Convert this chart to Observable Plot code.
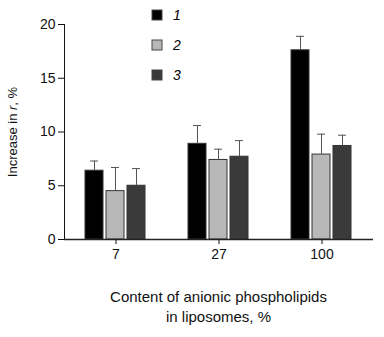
<!DOCTYPE html>
<html>
<head>
<meta charset="utf-8">
<script src="https://cdn.jsdelivr.net/npm/d3@7"></script>
<script src="https://cdn.jsdelivr.net/npm/@observablehq/plot@0.6"></script>
<style>
  html, body { margin: 0; padding: 0; background: #fff; }
  #wrap { position: relative; width: 384px; height: 337px; font-family: "Liberation Sans", Arial, sans-serif; }
  #legend { position: absolute; left: 152px; top: 10px; }
  .lg-swatches-columns .lg-swatch { height: 10px !important; margin-bottom: 20px !important; padding: 0 !important; display: flex; align-items: center; }
  .lg-swatch svg { margin-right: 11px !important; }
  .lg-swatch svg rect { stroke: #444; stroke-width: 1px; }
  #caption { position: absolute; left: 64px; width: 309px; top: 287px; text-align: center; font-size: 15px; line-height: 20px; color: #111; }
</style>
</head>
<body>
<div id="wrap">
  <div id="chart"></div>
  <div id="legend"></div>
  <div id="caption">Content of anionic phospholipids<br>in liposomes, %</div>
</div>
<script>
const categories = ["7", "27", "100"];
const series = ["1", "2", "3"];
const means1 = [6.4, 8.9, 17.6];
const means2 = [4.5, 7.4, 7.9];
const means3 = [5.0, 7.7, 8.7];
const errors1 = [0.9, 1.7, 1.3];
const errors2 = [2.2, 1.0, 1.9];
const errors3 = [1.6, 1.5, 1.0];
const yTicks = [0, 5, 10, 15, 20];

const allMeans = [means1, means2, means3];
const allErrors = [errors1, errors2, errors3];
const data = [];
categories.forEach((c, i) => {
  series.forEach((s, j) => {
    data.push({cat: c, series: s, value: allMeans[j][i], hi: allMeans[j][i] + allErrors[j][i]});
  });
});

const chart = Plot.plot({
  width: 384,
  height: 270,
  marginLeft: 64,
  marginRight: 11,
  marginTop: 24,
  marginBottom: 31,
  style: {fontFamily: "Liberation Sans, Arial, sans-serif", fontSize: "14px", color: "#111", background: "#fff"},
  facet: {data, x: "cat"},
  fx: {domain: categories, padding: 0, label: null, tickSize: 5, tickPadding: 5},
  x: {domain: series, axis: null, paddingInner: 0.12, paddingOuter: 1.0},
  y: {domain: [0, 20], ticks: yTicks, tickSize: 6, tickPadding: 3, line: true,
      label: "Increase in r, %", labelAnchor: "center", labelOffset: 57},
  color: {domain: series, range: ["#000000", "#b8b8b8", "#3a3a3a"]},
  marks: [
    Plot.barY(data, {x: "series", y: "value", fill: "series", stroke: "#333", strokeWidth: 1}),
    Plot.ruleX(data, {x: "series", y1: "value", y2: "hi", stroke: "#555", strokeWidth: 1}),
    Plot.tickY(data, {x: "series", y: "hi", stroke: "#555", strokeWidth: 1, insetLeft: 5, insetRight: 5}),
    Plot.ruleY([0], {stroke: "#222", strokeWidth: 1.5})
  ]
});
document.getElementById("chart").appendChild(chart);

// remove the arrow and italicize the "r" in the y label
chart.querySelectorAll("text").forEach(t => {
  if (t.textContent.trim().startsWith("Increase in")) {
    t.textContent = "";
    const ns = "http://www.w3.org/2000/svg";
    const a = document.createElementNS(ns, "tspan"); a.textContent = "Increase in ";
    const b = document.createElementNS(ns, "tspan"); b.textContent = "r"; b.setAttribute("font-style", "italic");
    const c = document.createElementNS(ns, "tspan"); c.textContent = ", %";
    t.append(a, b, c);
    t.setAttribute("font-size", "13");
  }
});

const legend = chart.legend("color", {
  legend: "swatches", columns: 1, swatchSize: 10, className: "lg",
  style: {fontFamily: "Liberation Sans, Arial, sans-serif", fontSize: "14px", fontStyle: "italic", color: "#000"}
});
if (legend) document.getElementById("legend").appendChild(legend);
</script>
</body>
</html>
